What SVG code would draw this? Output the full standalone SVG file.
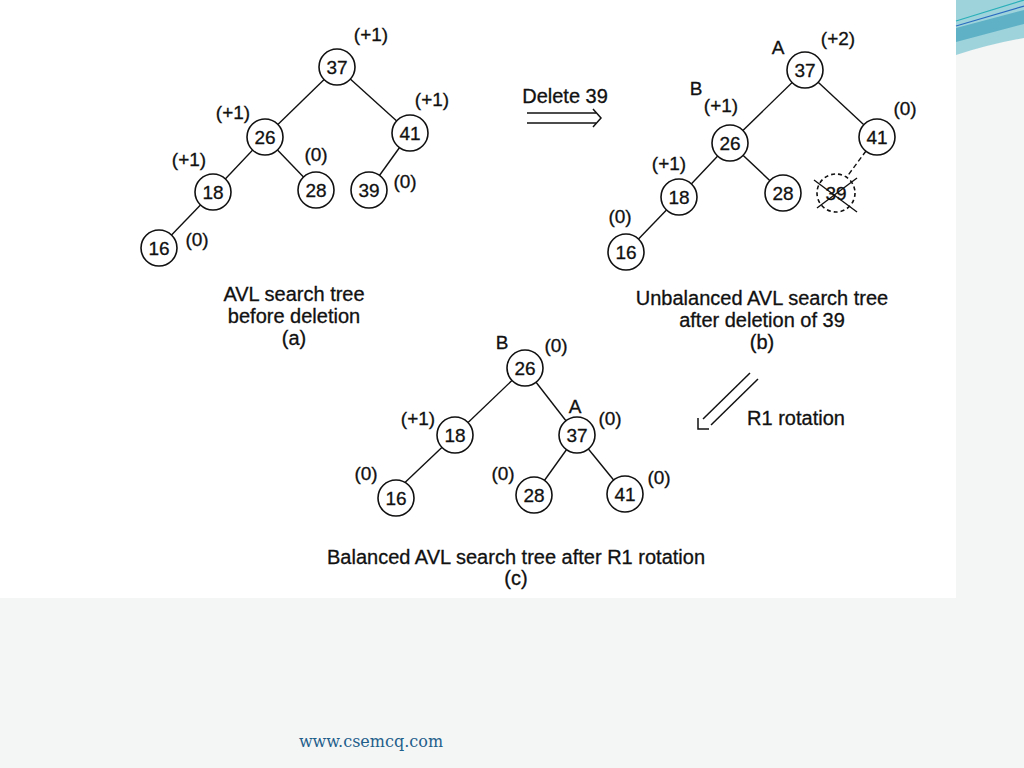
<svg xmlns="http://www.w3.org/2000/svg" width="1024" height="768" viewBox="0 0 1024 768">
<style>
.n circle{fill:#fff;stroke:#111;stroke-width:1.6}
.n text{font-family:"Liberation Sans",Arial,sans-serif;font-size:19px;fill:#111;stroke:#111;stroke-width:0.3;text-anchor:middle}
.lb{font-family:"Liberation Sans",Arial,sans-serif;font-size:19px;fill:#111;stroke:#111;stroke-width:0.3;text-anchor:middle}
.cap{font-family:"Liberation Sans",Arial,sans-serif;font-size:20px;fill:#111;stroke:#111;stroke-width:0.3;text-anchor:middle}
.e line{stroke:#111;stroke-width:1.4}
</style>
<rect width="1024" height="768" fill="#f4f5f5"/>
<rect x="0" y="0" width="956" height="598" fill="#fff"/>
<g id="deco">
<path d="M956 0 H1024 V38 Q990 44 956 55 Z" fill="#9fd3dc"/>
<path d="M956 28 L1024 10 V24 L956 42 Z" fill="#5fb2c6"/>
<path d="M956 21 L1024 0" stroke="#2ab0b8" stroke-width="1.2" fill="none"/>
<path d="M956 26 L1024 6" stroke="#2a6cc0" stroke-width="1.2" fill="none"/>
</g>
<g id="connectors" class="e">
<line x1="337" y1="67" x2="265" y2="137"/>
<line x1="337" y1="67" x2="410" y2="133"/>
<line x1="265" y1="137" x2="213" y2="192"/>
<line x1="265" y1="137" x2="316" y2="190"/>
<line x1="410" y1="133" x2="369" y2="190"/>
<line x1="213" y1="192" x2="159" y2="248"/>
<line x1="805" y1="70" x2="730" y2="143"/>
<line x1="805" y1="70" x2="877" y2="137"/>
<line x1="730" y1="143" x2="679" y2="197"/>
<line x1="730" y1="143" x2="783" y2="193"/>
<line x1="679" y1="197" x2="626" y2="252"/>
<line x1="866" y1="151" x2="846" y2="178" stroke-dasharray="5,3"/>
<line x1="525" y1="368" x2="455" y2="435"/>
<line x1="525" y1="368" x2="577" y2="435"/>
<line x1="455" y1="435" x2="396" y2="491"/>
<line x1="577" y1="435" x2="534" y2="495"/>
<line x1="577" y1="435" x2="625" y2="494"/>
</g>
<g id="tree-a">
<g id="a37" class="n"><circle cx="337" cy="67" r="18"/><text x="337" y="74">37</text></g>
<g id="a26" class="n"><circle cx="265" cy="137" r="18"/><text x="265" y="144">26</text></g>
<g id="a41" class="n"><circle cx="410" cy="133" r="18"/><text x="410" y="140">41</text></g>
<g id="a18" class="n"><circle cx="213" cy="192" r="18"/><text x="213" y="199">18</text></g>
<g id="a28" class="n"><circle cx="316" cy="190" r="18"/><text x="316" y="197">28</text></g>
<g id="a39" class="n"><circle cx="369" cy="190" r="18"/><text x="369" y="197">39</text></g>
<g id="a16" class="n"><circle cx="159" cy="248" r="18"/><text x="159" y="255">16</text></g>
<text class="lb" x="371" y="41">(+1)</text>
<text class="lb" x="432" y="106">(+1)</text>
<text class="lb" x="233" y="119">(+1)</text>
<text class="lb" x="189" y="166">(+1)</text>
<text class="lb" x="316" y="161">(0)</text>
<text class="lb" x="405" y="188">(0)</text>
<text class="lb" x="197" y="246">(0)</text>
<text class="cap" x="294" y="301">AVL search tree</text>
<text class="cap" x="294" y="323">before deletion</text>
<text class="cap" x="294" y="345">(a)</text>
</g>
<g id="delete-arrow">
<text class="cap" x="565" y="103">Delete 39</text>
<line x1="527" y1="113" x2="596" y2="113" stroke="#111" stroke-width="1.5"/>
<line x1="527" y1="123" x2="596" y2="123" stroke="#111" stroke-width="1.5"/>
<path d="M593 109 L601 118 L593 127" fill="none" stroke="#111" stroke-width="1.5"/>
</g>
<g id="tree-b">
<g id="b37" class="n"><circle cx="805" cy="70" r="18"/><text x="805" y="77">37</text></g>
<g id="b26" class="n"><circle cx="730" cy="143" r="18"/><text x="730" y="150">26</text></g>
<g id="b41" class="n"><circle cx="877" cy="137" r="18"/><text x="877" y="144">41</text></g>
<g id="b18" class="n"><circle cx="679" cy="197" r="18"/><text x="679" y="204">18</text></g>
<g id="b28" class="n"><circle cx="783" cy="193" r="18"/><text x="783" y="200">28</text></g>
<g id="b16" class="n"><circle cx="626" cy="252" r="18"/><text x="626" y="259">16</text></g>
<g id="b39" class="n"><circle cx="836" cy="193" r="19" stroke-dasharray="4,3"/><text x="836" y="200">39</text>
<line x1="814" y1="180" x2="857" y2="212" stroke="#111" stroke-width="1.4"/>
<line x1="857" y1="178" x2="817" y2="208" stroke="#111" stroke-width="1.4"/></g>
<text class="lb" x="778" y="54">A</text>
<text class="lb" x="838" y="45">(+2)</text>
<text class="lb" x="696" y="95">B</text>
<text class="lb" x="721" y="112">(+1)</text>
<text class="lb" x="905" y="115">(0)</text>
<text class="lb" x="669" y="170">(+1)</text>
<text class="lb" x="620" y="223">(0)</text>
<text class="cap" x="762" y="305">Unbalanced AVL search tree</text>
<text class="cap" x="762" y="327">after deletion of 39</text>
<text class="cap" x="762" y="349">(b)</text>
</g>
<g id="rotation-arrow">
<line x1="750" y1="373" x2="703" y2="419" stroke="#111" stroke-width="1.5"/>
<line x1="758" y1="379" x2="711" y2="425" stroke="#111" stroke-width="1.5"/>
<path d="M698 418 L698 429 L709 429" fill="none" stroke="#111" stroke-width="1.5"/>
<text class="cap" x="796" y="425">R1 rotation</text>
</g>
<g id="tree-c">
<g id="c26" class="n"><circle cx="525" cy="368" r="18"/><text x="525" y="375">26</text></g>
<g id="c18" class="n"><circle cx="455" cy="435" r="18"/><text x="455" y="442">18</text></g>
<g id="c37" class="n"><circle cx="577" cy="435" r="18"/><text x="577" y="442">37</text></g>
<g id="c16" class="n"><circle cx="396" cy="498" r="18"/><text x="396" y="505">16</text></g>
<g id="c28" class="n"><circle cx="534" cy="495" r="18"/><text x="534" y="502">28</text></g>
<g id="c41" class="n"><circle cx="625" cy="494" r="18"/><text x="625" y="501">41</text></g>
<text class="lb" x="502" y="349">B</text>
<text class="lb" x="556" y="352">(0)</text>
<text class="lb" x="418" y="425">(+1)</text>
<text class="lb" x="575" y="413">A</text>
<text class="lb" x="610" y="425">(0)</text>
<text class="lb" x="366" y="480">(0)</text>
<text class="lb" x="503" y="480">(0)</text>
<text class="lb" x="659" y="484">(0)</text>
<text class="cap" x="516" y="564">Balanced AVL search tree after R1 rotation</text>
<text class="cap" x="516" y="585">(c)</text>
</g>
<text x="371" y="747" font-family="'DejaVu Serif','Liberation Serif',serif" font-size="16" fill="#1f5f8b" text-anchor="middle">www.csemcq.com</text>
</svg>
